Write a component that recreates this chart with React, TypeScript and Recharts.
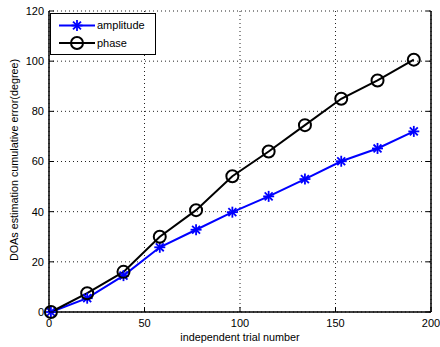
import React from 'react';
import { LineChart, Line, XAxis, YAxis, CartesianGrid, Label } from 'recharts';

const trials = [1, 20, 39, 58, 77, 96, 115, 134, 153, 172, 191];
const amplitude = [0, 5.5, 14.5, 25.8, 32.8, 39.8, 46.1, 53, 60.1, 65.2, 72];
const phase = [0, 7.5, 16, 30, 40.6, 54.1, 64, 74.5, 85, 92.3, 100.6];
const xTicks = [0, 50, 100, 150, 200];
const yTicks = [0, 20, 40, 60, 80, 100, 120];
const seriesNames = ['amplitude', 'phase'];
const seriesColors = ['#0000ff', '#000000'];

const data = trials.map((t, i) => ({ x: t, amplitude: amplitude[i], phase: phase[i] }));

const FONT = '"Liberation Sans", Arial, Helvetica, sans-serif';
const TICK = 5;
const BOTTOM_MARGIN = 7;

const Star = (props: any) => {
  const { cx, cy, stroke } = props;
  if (cx == null || cy == null) return null;
  const r = 5.5;
  const d = r * 0.72;
  return (
    <g stroke={stroke} strokeWidth={1.8}>
      <line x1={cx - r} y1={cy} x2={cx + r} y2={cy} />
      <line x1={cx} y1={cy - r} x2={cx} y2={cy + r} />
      <line x1={cx - d} y1={cy - d} x2={cx + d} y2={cy + d} />
      <line x1={cx - d} y1={cy + d} x2={cx + d} y2={cy - d} />
    </g>
  );
};

const Circ = (props: any) => {
  const { cx, cy, stroke } = props;
  if (cx == null || cy == null) return null;
  return <circle cx={cx} cy={cy} r={6} fill="none" stroke={stroke} strokeWidth={2} />;
};

const BottomTick = (props: any) => {
  const { x, y, payload } = props;
  const y0 = y - BOTTOM_MARGIN;
  return (
    <g>
      <line x1={x} y1={y0} x2={x} y2={y0 - TICK} stroke="#000" strokeWidth={1} />
      <text x={x} y={y} dy="0.71em" textAnchor="middle" fontSize={11} fontFamily={FONT} fill="#000">{payload.value}</text>
    </g>
  );
};

const TopTick = (props: any) => {
  const { x, y } = props;
  const y0 = y + 2;
  return <line x1={x} y1={y0} x2={x} y2={y0 + TICK} stroke="#000" strokeWidth={1} />;
};

const LeftTick = (props: any) => {
  const { x, y, payload } = props;
  const x0 = x + 5;
  return (
    <g>
      <line x1={x0} y1={y} x2={x0 + TICK} y2={y} stroke="#000" strokeWidth={1} />
      <text x={x} y={y} dy="0.355em" textAnchor="end" fontSize={11} fontFamily={FONT} fill="#000">{payload.value}</text>
    </g>
  );
};

const RightTick = (props: any) => {
  const { x, y } = props;
  const x0 = x - 2;
  return <line x1={x0} y1={y} x2={x0 - TICK} y2={y} stroke="#000" strokeWidth={1} />;
};

const LegendBox = () => (
  <svg width={106} height={42} style={{ position: 'absolute', left: 50, top: 13, display: 'block' }}>
    <rect x={0.5} y={0.5} width={105} height={41} fill="#fff" stroke="#000" strokeWidth={1} />
    {seriesNames.map((name, i) => {
      const y = 12.5 + i * 17.5;
      const color = seriesColors[i];
      return (
        <g key={name}>
          <line x1={9} y1={y} x2={45} y2={y} stroke={color} strokeWidth={2} />
          {i === 0 ? <Star cx={27} cy={y} stroke={color} /> : <Circ cx={27} cy={y} stroke={color} />}
          <text x={47} y={y} dy="0.35em" fontSize={11} fontFamily={FONT} fill="#000">{name}</text>
        </g>
      );
    })}
  </svg>
);

export default function App() {
  return (
    <div style={{ position: 'relative', width: 440, height: 347, background: '#fff' }}>
      <style>{'body{margin:0;background:#fff}'}</style>
      <LineChart width={440} height={347} data={data} margin={{ top: 11, right: 8, left: 0, bottom: 0 }}>
        <CartesianGrid stroke="#222" strokeDasharray="1 3" strokeWidth={1} />
        <XAxis
          dataKey="x"
          type="number"
          domain={[0, 200]}
          ticks={xTicks}
          height={35}
          tickSize={0}
          tickMargin={BOTTOM_MARGIN}
          axisLine={{ stroke: '#000', strokeWidth: 1.5 }}
          tickLine={false}
          tick={<BottomTick />}
          interval={0}
        >
          <Label
            content={(p: any) => {
              const vb = p.viewBox;
              return (
                <text x={vb.x + vb.width / 2} y={vb.y + vb.height - 6} textAnchor="middle" fontSize={10.8} fontFamily={FONT} fill="#000">
                  independent trial number
                </text>
              );
            }}
          />
        </XAxis>
        <XAxis
          xAxisId="top"
          dataKey="x"
          orientation="top"
          type="number"
          domain={[0, 200]}
          ticks={xTicks}
          height={0}
          tickSize={0}
          tickMargin={2}
          axisLine={{ stroke: '#000', strokeWidth: 1.5 }}
          tickLine={false}
          tick={<TopTick />}
          interval={0}
        />
        <YAxis
          type="number"
          domain={[0, 120]}
          ticks={yTicks}
          width={49}
          tickSize={0}
          tickMargin={5}
          axisLine={{ stroke: '#000', strokeWidth: 1.5 }}
          tickLine={false}
          tick={<LeftTick />}
          interval={0}
        >
          <Label
            content={() => {
              const cx = 14.5;
              const cy = 160;
              return (
                <text x={cx} y={cy} dy="0.35em" textAnchor="middle" transform={`rotate(-90 ${cx} ${cy})`} fontSize={10.8} fontFamily={FONT} fill="#000">
                  DOAs estimation cumulative error(degree)
                </text>
              );
            }}
          />
        </YAxis>
        <YAxis
          yAxisId="right"
          orientation="right"
          type="number"
          domain={[0, 120]}
          ticks={yTicks}
          width={1}
          tickSize={0}
          tickMargin={2}
          axisLine={{ stroke: '#000', strokeWidth: 1.5 }}
          tickLine={false}
          tick={<RightTick />}
          interval={0}
        />
        <Line
          name={seriesNames[0]}
          dataKey="amplitude"
          stroke={seriesColors[0]}
          strokeWidth={2}
          dot={<Star />}
          isAnimationActive={false}
        />
        <Line
          name={seriesNames[1]}
          dataKey="phase"
          yAxisId="right"
          stroke={seriesColors[1]}
          strokeWidth={2}
          dot={<Circ />}
          isAnimationActive={false}
        />
      </LineChart>
      <LegendBox />
    </div>
  );
}
